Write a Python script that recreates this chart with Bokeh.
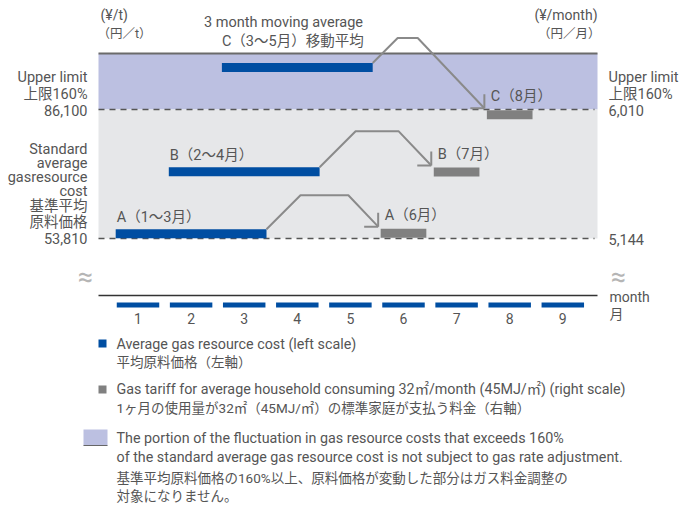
from bokeh.plotting import figure
from bokeh.models import Range1d
from bokeh.core.properties import value
from bokeh.embed import file_html
from bokeh.resources import INLINE

# ---------------- data ----------------
months = [1, 2, 3, 4, 5, 6, 7, 8, 9]
month_labels = ["1", "2", "3", "4", "5", "6", "7", "8", "9"]

window_names = ["A", "B", "C"]
window_start = [1, 2, 3]
window_end = [3, 4, 5]
window_labels = ["A（1～3月）", "B（2～4月）", "C（3～5月）"]
avg_cost = [55000, 70500, 96600]          # left scale (¥/t)

tariff_month = [6, 7, 8]
tariff_labels = ["A（6月）", "B（7月）", "C（8月）"]
tariff = [5180, 5590, 5975]               # right scale (¥/month)

standard_cost = 53810                      # left scale
upper_cost = 86100                         # 160%
standard_tariff = 5144                     # right scale
upper_tariff = 6010
left_tick_labels = ["Upper limit", "上限160%", "86,100"]
std_tick_labels = ["Standard", "average", "gasresource", "cost", "基準平均", "原料価格", "53,810"]
right_tick_labels = ["Upper limit", "上限160%", "6,010"]
right_std_label = "5,144"

# ---------------- layout (page pixel geometry) ----------------
W, H = 696, 507
OFF = 0
M1_PX = 137.5          # page x of month 1
M_STEP = 53.1          # px per month
STD_PY = 238           # page y of standard line
UP_PY = 109            # page y of upper line
ppx = (upper_cost - standard_cost) / (STD_PY - UP_PY)   # value per px

def X(px):
    return 1 + (px - M1_PX) / M_STEP

def Y(py):
    return standard_cost + (STD_PY - py) * ppx

def DX(px):
    return px / M_STEP

def DY(px):
    return px * ppx

x0, x1 = X(OFF), X(OFF + W)
y_top, y_bot = Y(OFF), Y(OFF + H)

# right scale linear map
rk = (upper_tariff - standard_tariff) / (upper_cost - standard_cost)
def R(v):
    return standard_tariff + (v - standard_cost) * rk
def R_inv(r):
    return standard_cost + (r - standard_tariff) / rk

p = figure(width=W, height=H, x_range=Range1d(x0, x1), y_range=Range1d(y_bot, y_top),
           output_backend="svg", toolbar_location=None, min_border=0,
           x_axis_location=None, y_axis_location=None)
p.extra_y_ranges = {"right": Range1d(R(y_bot), R(y_top))}
p.grid.visible = False
p.outline_line_color = None
p.background_fill_color = "white"

FONT = value("Roboto, 'Noto Sans CJK JP', sans-serif")
TXT = "#555555"

left_px, right_px = 98, 597
chart_top = Y(53)

# panels
p.quad(left=[X(left_px)], right=[X(right_px)], bottom=[upper_cost], top=[chart_top],
       fill_color="#bcc0e1", line_color=None)
p.quad(left=[X(left_px)], right=[X(right_px)], bottom=[standard_cost], top=[upper_cost],
       fill_color="#e6e7e9", line_color=None)
p.line([X(left_px), X(right_px)], [chart_top, chart_top], line_color="#6b6b6b", line_width=2)
for lv in [upper_cost, standard_cost]:
    p.line([X(left_px), X(594)], [lv, lv], line_color="#555555", line_width=1.3, line_dash="6 5")

# blue bars (3-month windows)
bw = 0.42
bx = [(s + e) / 2 for s, e in zip(window_start, window_end)]
bwid = [e - s + 2 * bw for s, e in zip(window_start, window_end)]
p.rect(x=bx, y=avg_cost, width=bwid, height=9, height_units="screen",
       fill_color="#004ea2", line_color=None)
for s, v, lab in zip(window_start, avg_cost, window_labels[:2]):
    p.text(x=[s - bw + DX(1)], y=[v + DY(16)], text=[lab], text_font=FONT,
           text_font_size="14.5px", text_color=TXT, text_baseline="middle", text_align="left")

# grey bars (tariffs)
gw = 0.43
p.rect(x=tariff_month, y=tariff, width=2 * gw, height=9, height_units="screen",
       fill_color="#808080", line_color=None, y_range_name="right")
for m, t, lab in zip(tariff_month, tariff, tariff_labels):
    p.text(x=[m - gw + DX(4)], y=[R_inv(t) + DY(18)], text=[lab], text_font=FONT,
           text_font_size="14.5px", text_color=TXT, text_baseline="middle", text_align="left")

# arrows
rises = [34, 36, 25]
for e, v, m, t, rise in zip(window_end, avg_cost, tariff_month, tariff, rises):
    sx, sy = e + bw, v + DY(4.5)
    tx, ty = m - gw - DX(2.5), R_inv(t) + DY(6.5)
    peak = sy + DY(rise)
    drop_px = (peak - ty) / ppx
    xs = [sx, sx + DX(rise), tx - DX(drop_px * 0.95), tx]
    ys = [sy, peak, peak, ty]
    p.line(xs, ys, line_color="#8a8a8a", line_width=2)
    p.multi_line([[tx - DX(14), tx], [tx, tx]], [[ty, ty], [ty + DY(14), ty]],
                 line_color="#8a8a8a", line_width=2)

# C label (title style)
p.text(x=[X(283)], y=[Y(22)], text=["3 month moving average"], text_font=FONT,
       text_font_size="14.5px", text_color=TXT, text_baseline="middle", text_align="center")
p.text(x=[window_start[2] - bw], y=[Y(41)], text=["C（3～5月）移動平均"], text_font=FONT,
       text_font_size="14.5px", text_color=TXT, text_baseline="middle", text_align="left")

# units
p.text(x=[X(100)], y=[Y(14)], text=["(¥/t)"], text_font=FONT, text_font_size="14px",
       text_color=TXT, text_baseline="middle", text_align="left")
p.text(x=[X(97)], y=[Y(33)], text=["（円／t）"], text_font=FONT, text_font_size="12.5px",
       text_color=TXT, text_baseline="middle", text_align="left")
p.text(x=[X(597)], y=[Y(14)], text=["(¥/month)"], text_font=FONT, text_font_size="14px",
       text_color=TXT, text_baseline="middle", text_align="right")
p.text(x=[X(600)], y=[Y(33)], text=["（円／月）"], text_font=FONT, text_font_size="12.5px",
       text_color=TXT, text_baseline="middle", text_align="right")

# left tick labels
ly = [77, 94, 110]
p.text(x=[X(87)] * 3, y=[Y(v) for v in ly], text=left_tick_labels, text_font=FONT,
       text_font_size="14.5px", text_color=TXT, text_baseline="middle", text_align="right")
sy_ = [149, 163, 177, 191, 206, 222, 238]
p.text(x=[X(87)] * 7, y=[Y(v) for v in sy_], text=std_tick_labels, text_font=FONT,
       text_font_size="14.5px", text_color=TXT, text_baseline="middle", text_align="right")
# right tick labels
p.text(x=[X(608)] * 3, y=[Y(v) for v in ly], text=right_tick_labels, text_font=FONT,
       text_font_size="14.5px", text_color=TXT, text_baseline="middle", text_align="left")
p.text(x=[X(608)], y=[Y(239)], text=[right_std_label], text_font=FONT,
       text_font_size="14.5px", text_color=TXT, text_baseline="middle", text_align="left")

# break marks
p.text(x=[X(85), X(618)], y=[Y(276), Y(276)], text=["≈", "≈"], text_font=FONT,
       text_font_size="27px", text_color="#b5b5b5", text_baseline="middle", text_align="center")

# x axis
axis_y = Y(295)
p.line([X(left_px), X(right_px)], [axis_y, axis_y], line_color="#333333", line_width=1.5)
p.rect(x=months, y=[Y(304.5)] * len(months), width=2 * 0.4, height=5, height_units="screen",
       fill_color="#004ea2", line_color=None)
p.text(x=months, y=[Y(318)] * len(months), text=month_labels, text_font=FONT,
       text_font_size="14px", text_color=TXT, text_baseline="middle", text_align="center")
p.text(x=[X(609)], y=[Y(296)], text=["month"], text_font=FONT, text_font_size="14px",
       text_color=TXT, text_baseline="middle", text_align="left")
p.text(x=[X(609)], y=[Y(313)], text=["月"], text_font=FONT, text_font_size="14px",
       text_color=TXT, text_baseline="middle", text_align="left")

# legend
p.rect(x=[X(102)], y=[Y(343)], width=8, height=8, width_units="screen", height_units="screen",
       fill_color="#004ea2", line_color=None)
p.rect(x=[X(102)], y=[Y(389)], width=8, height=8, width_units="screen", height_units="screen",
       fill_color="#808080", line_color=None)
p.quad(left=[X(83)], right=[X(107)], bottom=[Y(445)], top=[Y(429)],
       fill_color="#bcc0e1", line_color=None)
p.line([X(83), X(107)], [Y(445), Y(445)], line_color="#666666", line_width=1.2)

leg_en = [("Average gas resource cost (left scale)", 343),
          ("Gas tariff for average household consuming 32㎡/month (45MJ/㎡) (right scale)", 388),
          ("The portion of the fluctuation in gas resource costs that exceeds 160%", 437),
          ("of the standard average gas resource cost is not subject to gas rate adjustment.", 456)]
leg_ja = [("平均原料価格（左軸）", 361),
          ("1ヶ月の使用量が32㎡（45MJ/㎡）の標準家庭が支払う料金（右軸）", 407),
          ("基準平均原料価格の160%以上、原料価格が変動した部分はガス料金調整の", 477),
          ("対象になりません。", 495)]
p.text(x=[X(116)] * 4, y=[Y(v) for _, v in leg_en], text=[t for t, _ in leg_en], text_font=FONT,
       text_font_size="14.3px", text_color=TXT, text_baseline="middle", text_align="left")
p.text(x=[X(116)] * 4, y=[Y(v) for _, v in leg_ja], text=[t for t, _ in leg_ja], text_font=FONT,
       text_font_size="13.5px", text_color=TXT, text_baseline="middle", text_align="left")

open("out.html", "w").write(file_html(p, INLINE))
